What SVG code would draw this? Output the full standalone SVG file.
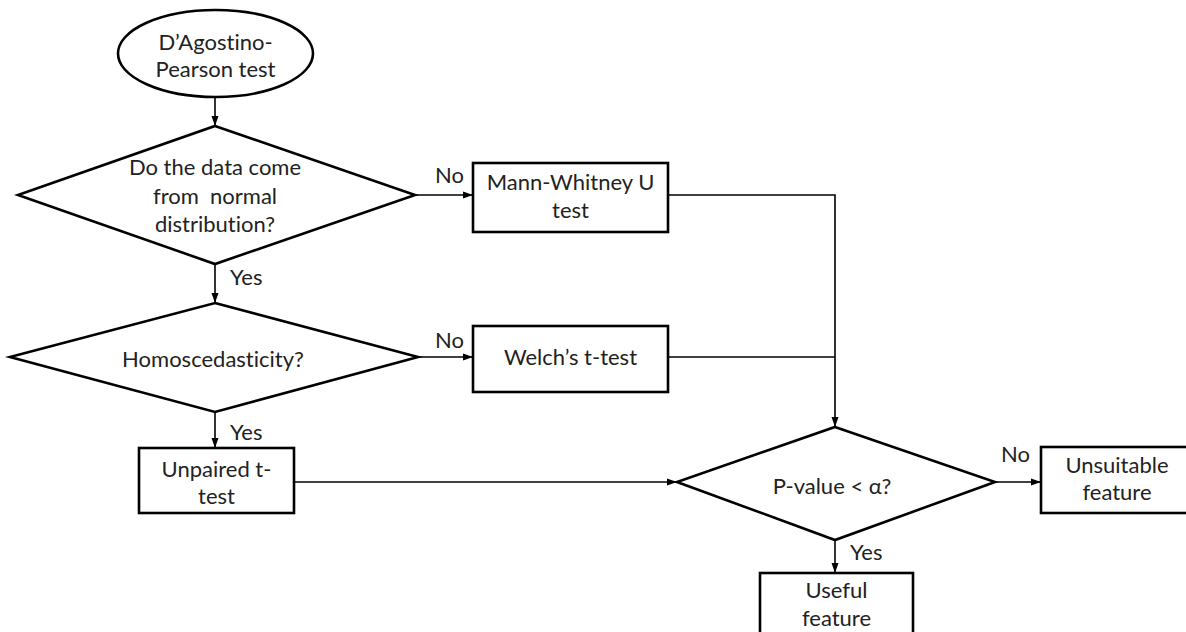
<svg xmlns="http://www.w3.org/2000/svg" width="1186" height="632" viewBox="0 0 1186 632">
<defs>
<marker id="arr" markerUnits="userSpaceOnUse" markerWidth="10" markerHeight="10" viewBox="0 0 10 10" refX="10" refY="5" orient="auto">
<path d="M0,1.5 L10,5 L0,8.5 Z" fill="#000"/>
</marker>
<style>
.shape{fill:#fff;stroke:#000;stroke-width:2.6;}
.conn{fill:none;stroke:#000;stroke-width:1.6;}
text{font-family:Lato,"Open Sans","Liberation Sans",sans-serif;font-size:22px;fill:#222;white-space:pre;font-variant-ligatures:none;font-feature-settings:"liga" 0,"dlig" 0;}
.c{text-anchor:middle;}
</style>
</defs>
<rect width="1186" height="632" fill="#fff"/>
<g id="connectors">
<path class="conn" d="M215,97 V126" marker-end="url(#arr)"/>
<path class="conn" d="M215,264 V303" marker-end="url(#arr)"/>
<path class="conn" d="M215,412 V448" marker-end="url(#arr)"/>
<path class="conn" d="M415,195 H473" marker-end="url(#arr)"/>
<path class="conn" d="M418,357 H473" marker-end="url(#arr)"/>
<path class="conn" d="M668,195 H835 V427" marker-end="url(#arr)"/>
<path class="conn" d="M668,357 H835"/>
<path class="conn" d="M294,482 H677" marker-end="url(#arr)"/>
<path class="conn" d="M995,482 H1041" marker-end="url(#arr)"/>
<path class="conn" d="M835,540 V573" marker-end="url(#arr)"/>
<text x="435" y="183">No</text>
<text x="435" y="348">No</text>
<text x="1001" y="462">No</text>
<text x="230" y="285">Yes</text>
<text x="230" y="440">Yes</text>
<text x="850" y="560">Yes</text>
</g>
<g id="start">
<ellipse class="shape" cx="215.5" cy="53.5" rx="97.5" ry="43.5"/>
<text class="c" x="215.5" y="50">D’Agostino-</text>
<text class="c" x="215.5" y="77">Pearson test</text>
</g>
<g id="normal">
<polygon class="shape" points="215,126 415,195 215,264 18,195"/>
<text class="c" x="215" y="175">Do the data come</text>
<text class="c" x="215" y="204">from  normal</text>
<text class="c" x="215" y="232">distribution?</text>
</g>
<g id="homo">
<polygon class="shape" points="215,303 418,357 215,412 10,357"/>
<text class="c" x="213" y="367">Homoscedasticity?</text>
</g>
<g id="unpaired">
<rect class="shape" x="139" y="448" width="155" height="65"/>
<text class="c" x="216.5" y="477">Unpaired t-</text>
<text class="c" x="216.5" y="504">test</text>
</g>
<g id="mann">
<rect class="shape" x="473" y="163" width="195" height="69"/>
<text class="c" x="570.5" y="190">Mann-Whitney U</text>
<text class="c" x="570.5" y="218">test</text>
</g>
<g id="welch">
<rect class="shape" x="473" y="326" width="195" height="66"/>
<text class="c" x="570.5" y="365">Welch’s t-test</text>
</g>
<g id="pvalue">
<polygon class="shape" points="835,427 995,482 835,540 677,482"/>
<text class="c" x="832" y="494">P-value &lt; α?</text>
</g>
<g id="unsuitable">
<rect class="shape" x="1041" y="447" width="152" height="66"/>
<text class="c" x="1117" y="473">Unsuitable</text>
<text class="c" x="1117" y="500">feature</text>
</g>
<g id="useful">
<rect class="shape" x="760" y="573" width="153" height="80"/>
<text class="c" x="836.5" y="598">Useful</text>
<text class="c" x="836.5" y="626">feature</text>
</g>
</svg>
